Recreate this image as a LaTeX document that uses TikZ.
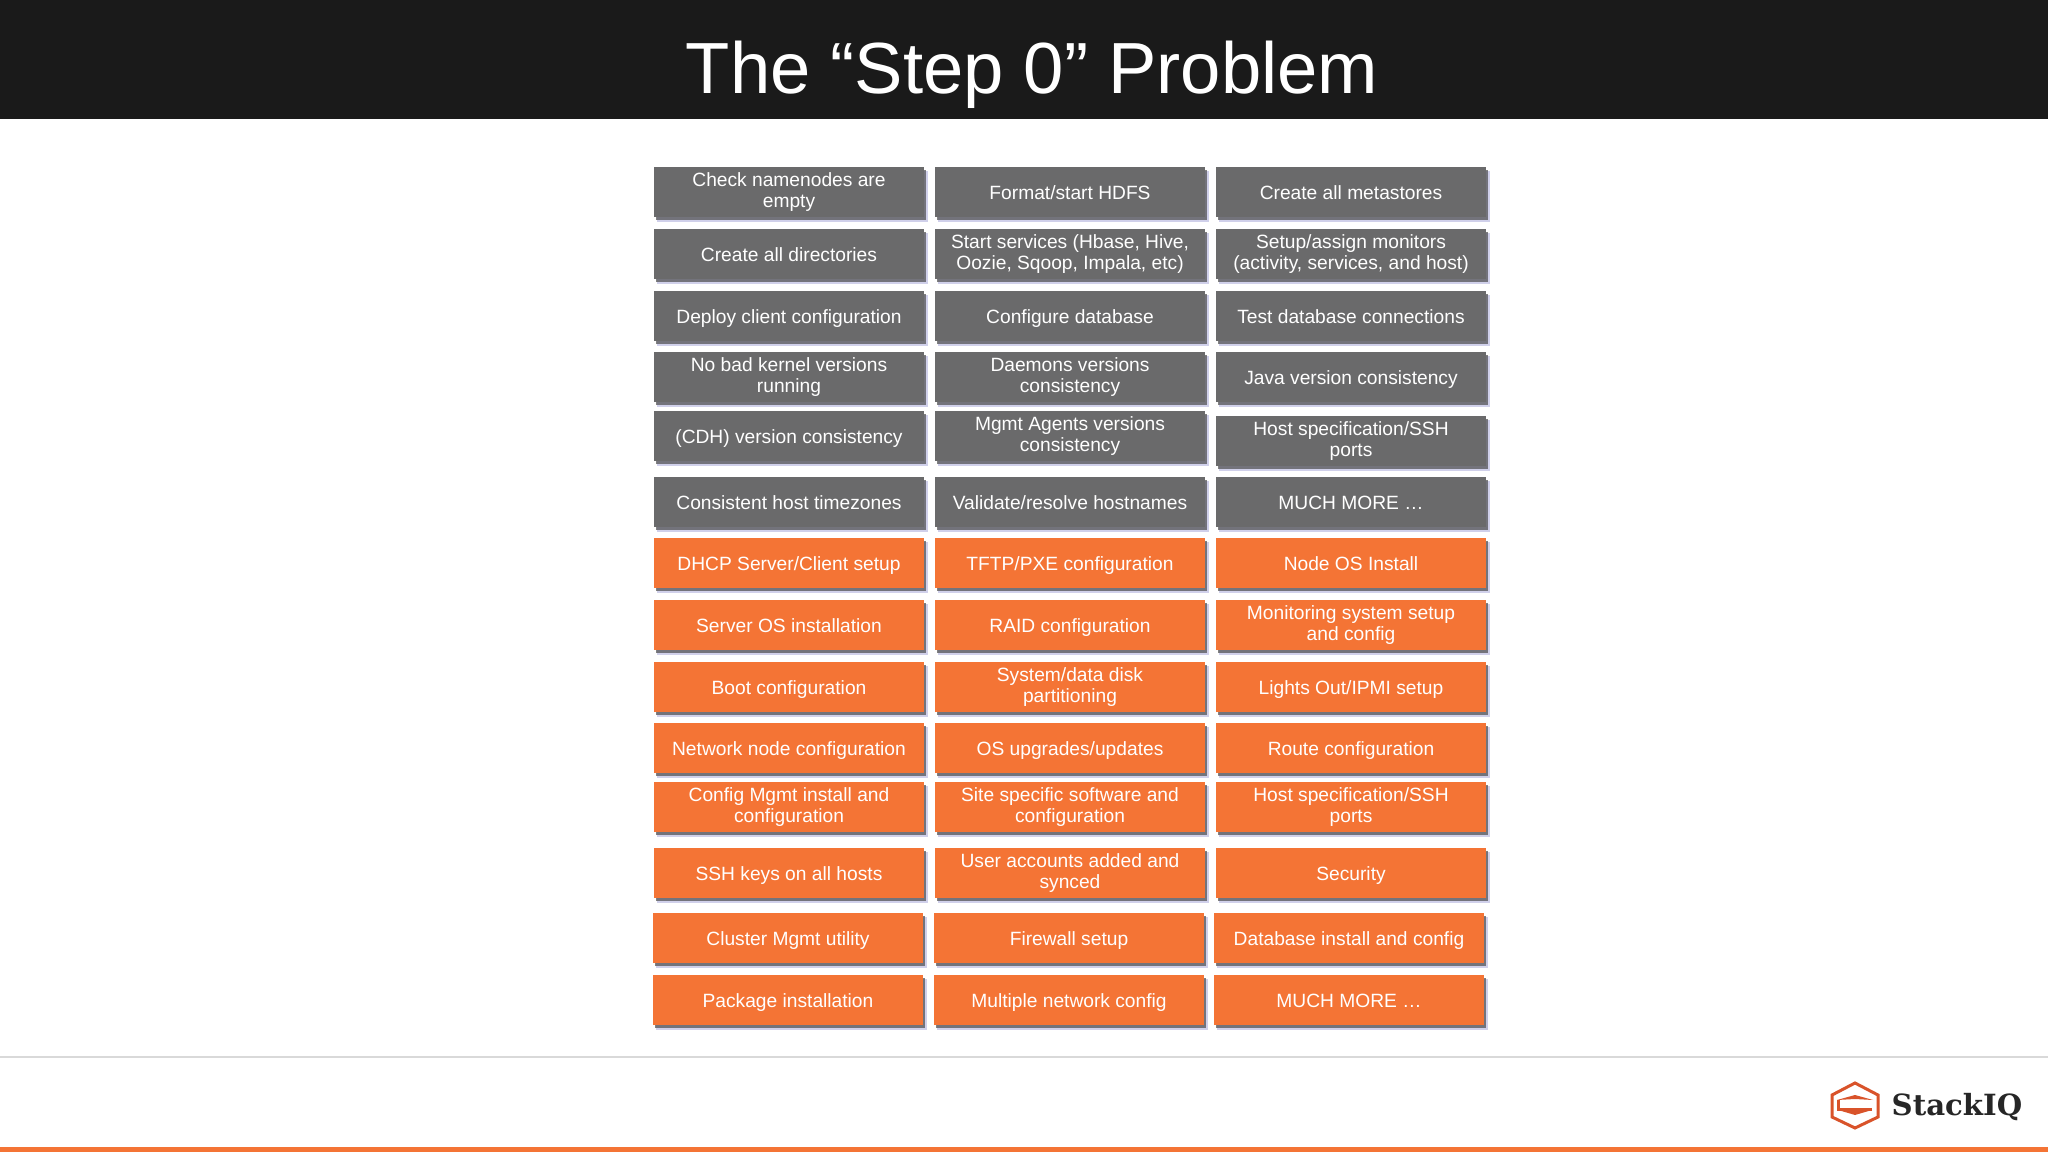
\documentclass[tikz,border=0pt]{standalone}
\usepackage{fontspec}
\setmainfont{Liberation Sans}
\newfontfamily\logofont{DejaVu Serif}
\usetikzlibrary{shadows}
\definecolor{slategrey}{HTML}{6A6A6B}
\definecolor{stackorange}{HTML}{F47435}
\definecolor{headerblack}{HTML}{1A1A1A}
\definecolor{logored}{HTML}{D9532A}
\newcommand{\taskstrut}{\vrule height 5.3pt depth 0.9pt width 0pt}
\tikzstyle{task}=[draw=none,minimum width=2.7cm,minimum height=0.5cm,inner sep=0pt,align=center,text=white,
    font=\fontsize{5.46pt}{6.15pt}\selectfont,
    execute at begin node=\taskstrut,execute at end node=\taskstrut,
    general shadow={shadow xshift=0.035cm,shadow yshift=-0.045cm,fill=black!45!blue!60!white,opacity=0.3},
    general shadow={shadow xshift=0.02cm,shadow yshift=-0.03cm,fill=black!70,opacity=0.7}]
\tikzstyle{greytask}=[task,fill=slategrey]
\tikzstyle{orangetask}=[task,fill=stackorange]
\tikzstyle{logoline}=[draw=logored,line width=0.03cm,line join=miter]

\begin{document}
\begin{tikzpicture}[x=0.01cm,y=-0.01cm]
    \useasboundingbox (0,0) rectangle (2048,1152);
    \fill[white] (0,0) rectangle (2048,1152);
    % Draw the title band
    \fill[headerblack] (0,0) rectangle (2048,119);
    \node[text=white,font=\fontsize{20.6pt}{24pt}\selectfont] (title) at (1032,74.5) {The “Step 0” Problem};

    % First we draw the grey boxes
    \foreach \pos/ \name/ \label in {
        {(789,192)/a1/{Check namenodes are\\empty}},{(1070,192)/a2/{Format/start HDFS}},{(1351,192)/a3/{Create all metastores}},
        {(789,254)/b1/{Create all directories}},{(1070,254)/b2/{Start services (Hbase, Hive,\\Oozie, Sqoop, Impala, etc)}},{(1351,254)/b3/{Setup/assign monitors\\(activity, services, and host)}},
        {(789,316)/c1/{Deploy client configuration}},{(1070,316)/c2/{Configure database}},{(1351,316)/c3/{Test database connections}},
        {(789,377)/d1/{No bad kernel versions\\running}},{(1070,377)/d2/{Daemons versions\\consistency}},{(1351,377)/d3/{Java version consistency}},
        {(789,436)/e1/{(CDH) version consistency}},{(1070,436)/e2/{Mgmt Agents versions\\consistency}},{(1351,441)/e3/{Host specification/SSH\\ports}},
        {(789,502)/f1/{Consistent host timezones}},{(1070,502)/f2/{Validate/resolve hostnames}},{(1351,502)/f3/{MUCH MORE …}}}
        \node[greytask] (\name) at \pos {\label};

    % Then the orange boxes
    \foreach \pos/ \name/ \label in {
        {(789,563)/g1/{DHCP Server/Client setup}},{(1070,563)/g2/{TFTP/PXE configuration}},{(1351,563)/g3/{Node OS Install}},
        {(789,625)/h1/{Server OS installation}},{(1070,625)/h2/{RAID configuration}},{(1351,625)/h3/{Monitoring system setup\\and config}},
        {(789,687)/i1/{Boot configuration}},{(1070,687)/i2/{System/data disk\\partitioning}},{(1351,687)/i3/{Lights Out/IPMI setup}},
        {(789,748)/j1/{Network node configuration}},{(1070,748)/j2/{OS upgrades/updates}},{(1351,748)/j3/{Route configuration}},
        {(789,807)/k1/{Config Mgmt install and\\configuration}},{(1070,807)/k2/{Site specific software and\\configuration}},{(1351,807)/k3/{Host specification/SSH\\ports}},
        {(789,873)/l1/{SSH keys on all hosts}},{(1070,873)/l2/{User accounts added and\\synced}},{(1351,873)/l3/{Security}},
        {(788,938)/m1/{Cluster Mgmt utility}},{(1069,938)/m2/{Firewall setup}},{(1349,938)/m3/{Database install and config}},
        {(788,1000)/n1/{Package installation}},{(1069,1000)/n2/{Multiple network config}},{(1349,1000)/n3/{MUCH MORE …}}}
        \node[orangetask] (\name) at \pos {\label};

    % Footer rule, bottom bar and logo
    \fill[black!15] (0,1056) rectangle (2048,1058);
    \fill[stackorange] (0,1147) rectangle (2048,1152);
    \draw[logoline] (1855,1083) -- (1878,1095) -- (1878,1117) -- (1855,1128) -- (1832,1117) -- (1832,1095) -- cycle;
    \fill[logored] (1837,1100) -- (1855,1095) -- (1873,1100) -- (1855,1099) -- cycle;
    \draw[logoline] (1838,1100) -- (1838,1109.5) -- (1872,1109.5);
    \fill[logored] (1838,1110) -- (1872,1110) -- (1855,1115) -- cycle;
    \node[font=\logofont\bfseries\fontsize{8.3pt}{10pt}\selectfont,text=black!85,inner sep=0pt] (logo) at (1957,1107) {StackIQ};
\end{tikzpicture}
\end{document}
